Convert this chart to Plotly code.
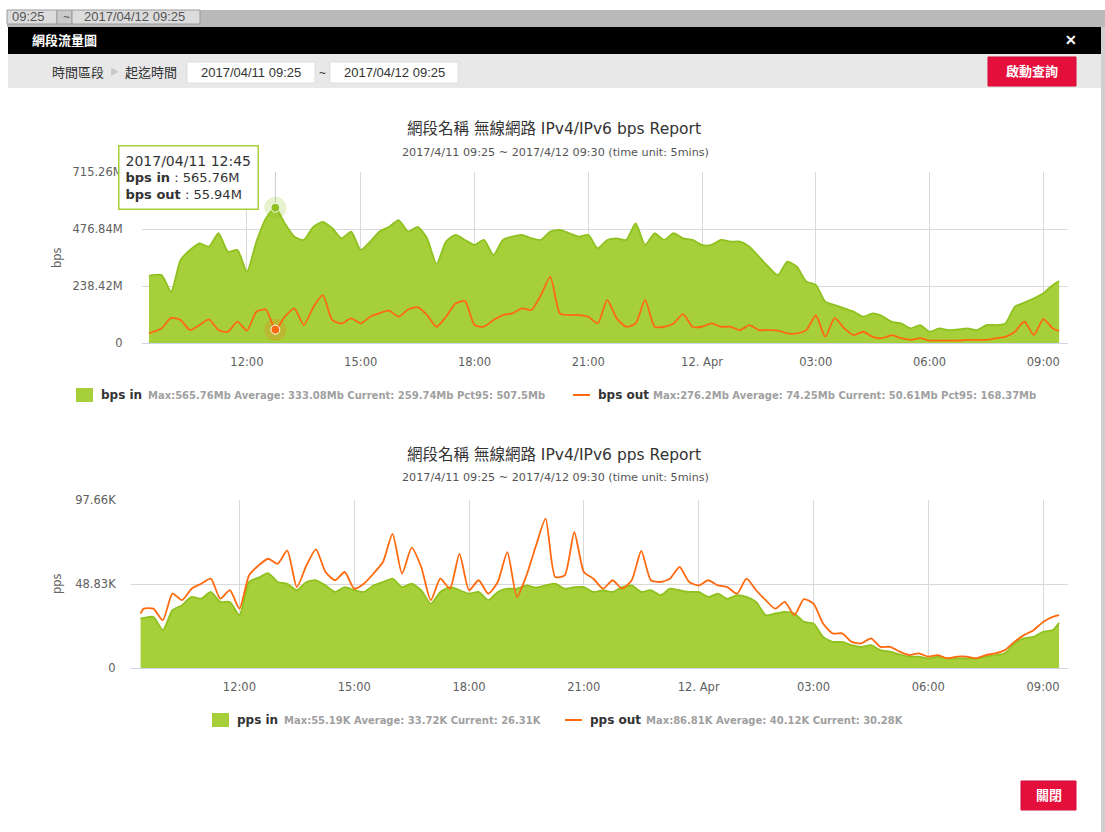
import plotly.graph_objects as go
import pandas as pd

W, H = 1105, 832

# ---------------- data ----------------
times = (["2017-04-11 09:25"]
         + [t.strftime("%Y-%m-%d %H:%M") for t in pd.date_range("2017-04-11 09:30", "2017-04-12 09:15", freq="15min")]
         + ["2017-04-12 09:25"])

# bps (M)
bps_in = [280, 284, 284, 215, 347, 389, 417, 403, 459, 382, 389, 298,
          424, 521, 565.76, 500, 445, 431, 486, 507, 480, 438, 466, 389,
          424, 466, 486, 514, 466, 486, 438, 330, 424, 452, 431, 410,
          431, 368, 431, 445, 452, 438, 431, 466, 473, 459, 445, 452,
          396, 431, 438, 431, 500, 410, 459, 431, 459, 438, 431, 410,
          410, 431, 424, 424, 403, 361, 319, 284, 340, 319, 257, 243,
          173, 159, 145, 131, 110, 124, 113, 89, 82, 61, 75, 47,
          61, 54, 57, 61, 54, 75, 75, 82, 152, 169, 187, 208,
          243, 259.74]
bps_out = [40, 45, 61, 105, 96, 54, 75, 99, 54, 47, 89, 52,
           131, 140, 55.94, 110, 145, 75, 150, 200, 96, 82, 103, 82,
           110, 125, 135, 110, 140, 150, 117, 68, 110, 165, 175, 75,
           68, 96, 117, 124, 145, 138, 200, 276.2, 124, 117, 117, 110,
           82, 180, 103, 68, 82, 180, 68, 68, 82, 121, 68, 68,
           82, 68, 68, 54, 75, 54, 54, 52, 40, 40, 54, 115,
           26, 105, 61, 33, 47, 26, 20, 33, 20, 13, 20, 10,
           10, 10, 10, 13, 13, 13, 20, 26, 47, 90, 33, 100,
           61, 50.61]
# pps (K)
pps_in = [28.8, 29.1, 29.7, 22, 33.6, 36.5, 41.3, 40.3, 44.2, 38.4, 38.4, 30.7,
          50, 52.5, 55.19, 50, 49, 45.2, 50, 51, 48, 44.2, 47, 45.2,
          44.2, 48, 50, 52, 47, 49, 45.2, 37.4, 44.2, 47, 45.2, 43.2,
          44.2, 39.4, 44.2, 46.1, 46.1, 48, 46.7, 48, 49, 46.1, 47, 47,
          44.2, 45.2, 44.2, 47, 48, 44.2, 45.2, 42.3, 46.1, 45.2, 44.2, 44.2,
          41.3, 43.2, 40.3, 42.3, 41.3, 38.4, 30.7, 31.7, 32.6, 31.7, 26.8, 25.9,
          18.1, 15.2, 15.2, 13.3, 12.3, 13.3, 10.4, 9.5, 7.9, 6.6, 6.6, 5.6,
          6.6, 5.6, 5.6, 5.6, 5.6, 6.6, 7.5, 8.5, 14.3, 17.2, 18.1, 21,
          22, 26.31]
pps_out = [31.7, 34.5, 34.5, 27.8, 43.2, 39.4, 46.1, 49, 52, 40.3, 45.2, 34.5,
           53.8, 59.6, 63.5, 60.6, 68.3, 47, 59.6, 69, 55.8, 51, 55.8, 46.1,
           49, 54.8, 61.6, 78, 54.8, 70, 58.7, 39.4, 52, 46.1, 66.4, 45.2,
           51, 43.2, 50, 67.4, 41.3, 53.8, 71.2, 86.81, 52.9, 53.8, 78.9, 55.8,
           51.9, 46.1, 51, 46.1, 51, 68, 51, 50, 51.9, 58.7, 50, 48,
           51, 48, 47, 43.2, 51.9, 45.2, 39.4, 34.5, 38.4, 30.7, 40, 37.4,
           25.9, 20.1, 20.1, 15.2, 14.3, 17.2, 12.3, 12.3, 9.5, 7.5, 8.5, 6.6,
           7.5, 5.6, 6.6, 6.6, 5.6, 7.5, 8.5, 10.4, 15.2, 19.1, 22, 26.8,
           29.7, 30.7]

bps_tickvals = [0, 238.42, 476.84, 715.26]
bps_ticktext = ["0", "238.42M", "476.84M", "715.26M"]
pps_tickvals = [0, 48.83, 97.66]
pps_ticktext = ["0", "48.83K", "97.66K"]
x_tickvals = ["2017-04-11 12:00", "2017-04-11 15:00", "2017-04-11 18:00", "2017-04-11 21:00",
              "2017-04-12 00:00", "2017-04-12 03:00", "2017-04-12 06:00", "2017-04-12 09:00"]
x_ticktext = ["12:00", "15:00", "18:00", "21:00", "12. Apr", "03:00", "06:00", "09:00"]

bps_title = "網段名稱 無線網路 IPv4/IPv6 bps Report"
pps_title = "網段名稱 無線網路 IPv4/IPv6 pps Report"
subtitle = "2017/4/11 09:25 ~ 2017/4/12 09:30 (time unit: 5mins)"
bps_in_stats = "Max:565.76Mb Average: 333.08Mb Current: 259.74Mb Pct95: 507.5Mb"
bps_out_stats = "Max:276.2Mb Average: 74.25Mb Current: 50.61Mb Pct95: 168.37Mb"
pps_in_stats = "Max:55.19K Average: 33.72K Current: 26.31K"
pps_out_stats = "Max:86.81K Average: 40.12K Current: 30.28K"
hover_time = "2017-04-11 12:45"

assert len(times) == len(bps_in) == len(bps_out) == len(pps_in) == len(pps_out)

# ---------------- styling ----------------
GREEN_FILL = "#a6cf3a"
GREEN_LINE = "#8fc11f"
ORANGE = "#ff6a0f"
GRID = "#d9d9d9"
FONT = "DejaVu Sans, Noto Sans CJK TC, sans-serif"
UIFONT = "Liberation Sans, Noto Sans CJK TC, sans-serif"


def px(x):
    return x / W


def py(y):
    return 1 - y / H


def rect(x0, y0, x1, y1, fill, line_color=None, lw=0, layer="below"):
    return dict(type="rect", xref="paper", yref="paper", x0=px(x0), x1=px(x1),
                y0=py(y1), y1=py(y0), fillcolor=fill, layer=layer,
                line=dict(width=lw, color=line_color or fill))


def text(x, y, s, size=12, color="#333", xanchor="left", family=FONT, **kw):
    return dict(x=px(x), y=py(y), xref="paper", yref="paper", text=s, showarrow=False,
                xanchor=xanchor, yanchor="middle", font=dict(size=size, color=color, family=family), **kw)


fig = go.Figure()

line_kw = dict(width=1.8, shape="spline", smoothing=0.6)
# top chart
fig.add_trace(go.Scatter(x=times, y=bps_in, mode="lines", line=dict(color=GREEN_LINE, **line_kw),
                         fill="tozeroy", fillcolor=GREEN_FILL, xaxis="x", yaxis="y", showlegend=False, hoverinfo="skip"))
fig.add_trace(go.Scatter(x=times, y=bps_out, mode="lines", line=dict(color=ORANGE, **line_kw),
                         xaxis="x", yaxis="y", showlegend=False, hoverinfo="skip"))
# bottom chart
fig.add_trace(go.Scatter(x=times, y=pps_in, mode="lines", line=dict(color=GREEN_LINE, **line_kw),
                         fill="tozeroy", fillcolor=GREEN_FILL, xaxis="x2", yaxis="y2", showlegend=False, hoverinfo="skip"))
fig.add_trace(go.Scatter(x=times, y=pps_out, mode="lines", line=dict(color=ORANGE, **line_kw),
                         xaxis="x2", yaxis="y2", showlegend=False, hoverinfo="skip"))

# hover state markers
hi = times.index(hover_time)
fig.add_trace(go.Scatter(x=[hover_time, hover_time], y=[bps_in[hi], bps_out[hi]], mode="markers",
                         marker=dict(size=22, color=[GREEN_LINE, ORANGE], opacity=0.22, line=dict(width=0)),
                         xaxis="x", yaxis="y", showlegend=False, hoverinfo="skip"))
fig.add_trace(go.Scatter(x=[hover_time, hover_time], y=[bps_in[hi], bps_out[hi]], mode="markers",
                         marker=dict(size=9, color=[GREEN_LINE, ORANGE], line=dict(width=1, color="white")),
                         xaxis="x", yaxis="y", showlegend=False, hoverinfo="skip"))

axis_common = dict(showgrid=True, gridcolor=GRID, gridwidth=1, zeroline=False, automargin=False,
                   tickfont=dict(size=11.5, color="#606060", family=FONT), fixedrange=True)

fig.update_layout(
    width=W, height=H, autosize=False,
    margin=dict(l=0, r=0, t=0, b=0, pad=0, autoexpand=False),
    paper_bgcolor="#ffffff", plot_bgcolor="rgba(0,0,0,0)",
    showlegend=False,
    xaxis=dict(domain=[px(142), px(1068)], anchor="y", type="date",
               range=["2017-04-11 09:14", "2017-04-12 09:39"],
               tickvals=x_tickvals, ticktext=x_ticktext, ticks="outside", ticklen=8,
               tickcolor="rgba(0,0,0,0)", showline=True, linecolor="#ccd6eb", **axis_common),
    yaxis=dict(domain=[py(343), py(172)], anchor="x", range=[0, 715.26],
               tickvals=bps_tickvals, ticktext=bps_ticktext, ticks="outside", ticklen=16,
               tickcolor="rgba(0,0,0,0)", **axis_common),
    xaxis2=dict(domain=[px(131), px(1068)], anchor="y2", type="date",
                range=["2017-04-11 09:10", "2017-04-12 09:39"],
                tickvals=x_tickvals, ticktext=x_ticktext, ticks="outside", ticklen=8,
                tickcolor="rgba(0,0,0,0)", showline=True, linecolor="#ccd6eb", **axis_common),
    yaxis2=dict(domain=[py(668), py(500)], anchor="x2", range=[0, 97.66],
                tickvals=pps_tickvals, ticktext=pps_ticktext, ticks="outside", ticklen=12,
                tickcolor="rgba(0,0,0,0)", **axis_common),
)

shapes = [
    # page background pieces
    rect(7, 10, W, 27, "#b9b9b9"),
    rect(7, 10, 57, 24, "#dcdcdc", "#9a9a9a", 1),
    rect(57, 10, 72, 24, "#c9c9c9", "#9a9a9a", 1),
    rect(72, 10, 200, 24, "#dcdcdc", "#9a9a9a", 1),
    rect(1101, 27, W, H, "#d0d0d0"),
    # modal
    rect(8, 27, 1101, 54, "#000000"),
    rect(8, 54, 1101, 88, "#e8e8e8"),
    rect(187, 62, 315, 83, "#ffffff", "#dddddd", 1),
    rect(330, 62, 458, 83, "#ffffff", "#dddddd", 1),
    rect(988, 57, 1076, 86, "#e50f3c", "#d40a34", 1),
    rect(1021, 781, 1076, 810, "#e50f3c", "#d40a34", 1),
    # legend symbols
    rect(76, 388, 93, 402, GREEN_FILL),
    dict(type="line", xref="paper", yref="paper", x0=px(573), x1=px(590), y0=py(395), y1=py(395),
         line=dict(color=ORANGE, width=2)),
    rect(212, 713, 229, 727, GREEN_FILL),
    dict(type="line", xref="paper", yref="paper", x0=px(565), x1=px(582), y0=py(720), y1=py(720),
         line=dict(color=ORANGE, width=2)),
    # crosshair
    dict(type="line", xref="x", yref="y domain", x0=hover_time, x1=hover_time, y0=0, y1=1,
         line=dict(color="#cccccc", width=1), layer="below"),
]
fig.update_layout(shapes=shapes)

tooltip = (f"<span style='font-size:14px'>{pd.Timestamp(hover_time).strftime('%Y/%m/%d %H:%M')}</span><br>"
           f"<b>bps in</b> : {bps_in[hi]:.2f}M<br><b>bps out</b> : {bps_out[hi]:.2f}M")

annotations = [
    text(10, 17, "09:25", 13, "#555", family=UIFONT),
    text(61, 17, "~", 12, "#555", family=UIFONT),
    text(82, 17, "2017/04/12 09:25", 13, "#555", family=UIFONT),
    text(30, 41, "<b>網段流量圖</b>", 13, "#ffffff", family=UIFONT),
    text(1071, 40, "<b>✕</b>", 14, "#ffffff", xanchor="center", family=UIFONT),
    text(50, 72, "時間區段", 13, "#333", family=UIFONT),
    text(108, 72, "▶", 9, "#c8c8c8", family=UIFONT),
    text(123, 72, "起迄時間", 13, "#333", family=UIFONT),
    text(251, 72.5, "2017/04/11 09:25", 13, "#333", xanchor="center", family=UIFONT),
    text(322, 72.5, "~", 12, "#333", xanchor="center", family=UIFONT),
    text(394, 72.5, "2017/04/12 09:25", 13, "#333", xanchor="center", family=UIFONT),
    text(1032, 71.5, "<b>啟動查詢</b>", 13, "#ffffff", xanchor="center", family=UIFONT),
    text(1048.5, 795.5, "<b>關閉</b>", 13, "#ffffff", xanchor="center", family=UIFONT),
    # chart titles
    text(554, 129, bps_title, 15.5, "#333", xanchor="center"),
    text(555, 152, subtitle, 11.2, "#555", xanchor="center"),
    text(554, 455, pps_title, 15.5, "#333", xanchor="center"),
    text(555, 478, subtitle, 11.2, "#555", xanchor="center"),
    # axis titles
    text(57, 258, "bps", 11.5, "#666", xanchor="center", textangle=-90),
    text(57, 584, "pps", 11.5, "#666", xanchor="center", textangle=-90),
    # legends
    text(99, 395, "<b>bps in</b>", 12, "#333"),
    text(146, 395.5, f"<b>{bps_in_stats}</b>", 10, "#a0a0a0"),
    text(596, 395, "<b>bps out</b>", 12, "#333"),
    text(651, 395.5, f"<b>{bps_out_stats}</b>", 10, "#a0a0a0"),
    text(235, 720, "<b>pps in</b>", 12, "#333"),
    text(282, 720.5, f"<b>{pps_in_stats}</b>", 10, "#a0a0a0"),
    text(588, 720, "<b>pps out</b>", 12, "#333"),
    text(644, 720.5, f"<b>{pps_out_stats}</b>", 10, "#a0a0a0"),
    # tooltip
    dict(x=px(118), y=py(145), xref="paper", yref="paper", xanchor="left", yanchor="top",
         text=tooltip, showarrow=False, align="left", bgcolor="rgba(255,255,255,0.92)",
         bordercolor="#a6cf3a", borderwidth=1.5, borderpad=6,
         font=dict(size=13, color="#333", family=FONT)),
]
fig.update_layout(annotations=annotations)

fig.write_html("out.html", config={"displayModeBar": False},
               post_script="document.body.style.margin='0px';document.body.style.overflow='hidden';")
